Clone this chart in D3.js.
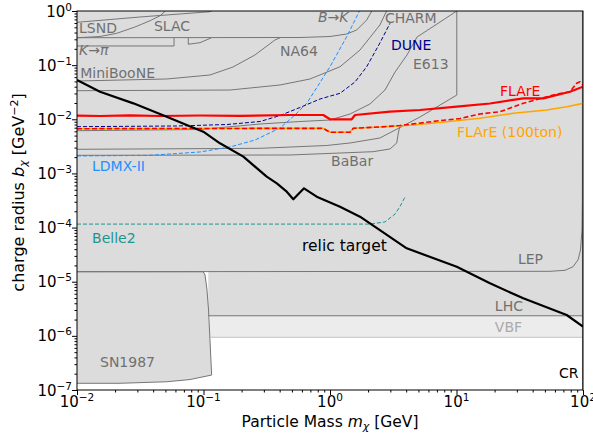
<!DOCTYPE html>
<html>
<head>
<meta charset="utf-8">
<script src="https://cdn.jsdelivr.net/npm/d3@7"></script>
<style>
  body { margin: 0; background: #fff; }
  text { font-family: "DejaVu Sans", sans-serif; }
</style>
</head>
<body>
<div id="chart-area"></div>
<script>
// excluded-region boundaries, points are [mass in GeV, b in GeV^-2]
var slacTop = [[0.01, 0.618], [0.0315, 0.775], [0.1125, 0.97], [0.116, 1.0]];
var lsnd = [[0.01, 0.321], [0.0152, 0.338], [0.0206, 0.387], [0.0287, 0.506], [0.0378, 0.662], [0.0453, 0.815], [0.05, 1.0]];
var bToK = [[0.01, 0.321], [0.579, 0.324], [1.0, 0.338], [1.355, 0.376], [1.626, 0.446], [1.95, 0.682], [2.14, 1.0]];
var kToPi1 = [[0.01, 0.226], [0.0585, 0.226], [0.0585, 0.321]];
var kToPi2 = [[0.0758, 0.321], [0.0758, 0.243], [0.0938, 0.26], [0.116, 0.321]];
var miniBooNE = [[0.01, 0.0509], [0.0512, 0.0555], [0.1125, 0.0658], [0.171, 0.0924], [0.255, 0.154], [0.367, 0.291], [0.403, 0.321]];
var na64 = [[0.01, 0.0337], [0.162, 0.0347], [0.403, 0.043], [0.695, 0.0555], [1.2, 0.0935], [1.726, 0.19], [2.48, 0.551], [2.8, 1.0]];
var charm = [[0.01, 0.00615], [0.0938, 0.00648], [0.28, 0.00818], [0.579, 0.0091], [1.0, 0.0097], [1.44, 0.01253], [2.07, 0.01915],
  [2.72, 0.0347], [3.27, 0.0747], [4.06, 0.154], [4.88, 0.331], [7.01, 0.575], [10.05, 1.0]];
var e613 = [[10.05, 1.0], [10.05, 0.028], [5.14, 0.011], [2.48, 0.00451], [1.44, 0.00365], [0.942, 0.00328], [0.28, 0.00291], [0.01, 0.00279]];
var babar = [[0.01, 0.00216], [0.483, 0.00219], [2.19, 0.00252], [2.98, 0.00283], [3.37, 0.00365], [3.48, 0.00582], [3.57, 0.0073]];
var lep = [[0.01, 1.53e-5], [54.8, 1.556e-5], [72.1, 1.625e-5], [83.4, 1.89e-5], [91.3, 2.52e-5], [95.5, 3.85e-5],
  [98.2, 9.0e-5], [98.9, 3.2e-4], [99.2, 1.0]];
var lhc = [[0.109, 2.35e-6], [100, 2.35e-6]];
var vbf = [[0.1125, 9.4e-7], [100, 9.4e-7]];
var sn1987 = [[0.01, 1.53e-5], [0.0996, 1.53e-5], [0.1028, 1.33e-5], [0.1066, 7.03e-6], [0.1096, 3.0e-6], [0.1125, 8.38e-7],
  [0.116, 1.89e-7], [0.0782, 1.56e-7], [0.0512, 1.42e-7], [0.0219, 1.33e-7], [0.01, 1.33e-7]];
var cr = [[99.5, 1e-7], [99.5, 1.0]];

// projections and the relic line
var flare = [[0.01, 0.01164], [0.0152, 0.0115], [0.0262, 0.01185], [0.0453, 0.0115], [0.0938, 0.01175], [0.1945, 0.0116],
  [0.483, 0.012], [0.885, 0.012], [1.0, 0.01], [1.484, 0.01], [1.577, 0.012], [2.98, 0.0138], [5.14, 0.01483],
  [10.05, 0.01707], [18.4, 0.01956], [33.7, 0.0244], [48.5, 0.0244], [78.9, 0.0323], [100, 0.04]];
var flareDashed = [[0.01, 0.0067], [0.0938, 0.00676], [0.885, 0.00681], [1.0, 0.00575], [1.44, 0.00575], [1.528, 0.00681],
  [2.48, 0.0072], [3.57, 0.00767], [6.97, 0.00929], [10.67, 0.01034], [15.3, 0.01253], [22.1, 0.0138], [33.7, 0.0197],
  [58.2, 0.0281], [78.9, 0.0323], [89.1, 0.0462], [94.6, 0.0494], [100, 0.043]];
var flare100 = [[0.01, 0.0067], [0.0938, 0.00676], [0.885, 0.00681], [1.0, 0.00575], [1.44, 0.00575], [1.528, 0.00681],
  [2.48, 0.0072], [4.56, 0.00784], [8.37, 0.00902], [15.3, 0.01042], [28.1, 0.0129], [51.6, 0.01484], [74.3, 0.01707], [100, 0.0197]];
var dune = [[0.01, 0.0073], [0.0617, 0.00752], [0.1535, 0.00801], [0.28, 0.0091], [0.403, 0.01175], [0.579, 0.01651],
  [0.834, 0.0237], [1.2, 0.0302], [1.577, 0.0489], [1.95, 0.0935], [2.48, 0.2564], [2.98, 0.593]];
var ldmx = [[0.01, 0.0021], [0.0378, 0.00216], [0.0938, 0.00249], [0.162, 0.00308], [0.255, 0.00414], [0.403, 0.0069],
  [0.528, 0.012], [0.655, 0.0197], [1.0, 0.0935], [1.355, 0.335], [1.71, 1.0]];
var belle2 = [[0.01, 1.16e-4], [2.07, 1.16e-4], [2.72, 1.27e-4], [3.27, 1.78e-4], [3.57, 2.43e-4], [3.92, 3.67e-4]];
var relic = [[0.01, 0.0531], [0.0152, 0.0323], [0.0279, 0.0197], [0.0512, 0.01116], [0.0736, 0.00784], [0.0996, 0.0059],
  [0.135, 0.0036], [0.2065, 0.00204], [0.316, 8.7e-4], [0.38, 6.57e-4], [0.455, 4.6e-4], [0.513, 3.33e-4], [0.623, 5.31e-4],
  [0.785, 3.72e-4], [1.2, 2.43e-4], [1.726, 1.59e-4], [2.48, 9.0e-5], [4.04, 4.14e-5], [10.05, 1.89e-5], [18.4, 9.33e-6],
  [33.7, 4.93e-6], [74.3, 2.43e-6], [100, 1.49e-6]];

var xTicks = [1e-2, 1e-1, 1e0, 1e1, 1e2];
var xTickExp = ["−2", "−1", "0", "1", "2"];
var yTicks = [1e-7, 1e-6, 1e-5, 1e-4, 1e-3, 1e-2, 1e-1, 1e0];
var yTickExp = ["−7", "−6", "−5", "−4", "−3", "−2", "−1", "0"];

// SVG drawing area
var margin = {top: 11, right: 10, bottom: 43, left: 77};
var width = 593 - margin.left - margin.right,
    height = 433 - margin.top - margin.bottom;

var svg = d3.select("#chart-area").append("svg")
    .attr("width", width + margin.left + margin.right)
    .attr("height", height + margin.top + margin.bottom)
    .append("g")
    .attr("transform", "translate(" + margin.left + "," + margin.top + ")");

var x = d3.scaleLog().domain([1e-2, 1e2]).range([0, width]);
var y = d3.scaleLog().domain([1e-7, 1]).range([height, 0]);

svg.append("clipPath").attr("id", "clip")
    .append("rect").attr("width", width).attr("height", height);

var plot = svg.append("g").attr("clip-path", "url(#clip)");

var line = d3.line().x(function(d) { return x(d[0]); }).y(function(d) { return y(d[1]); });
var toTop = d3.area().x(function(d) { return x(d[0]); }).y0(0).y1(function(d) { return y(d[1]); });

var fillGray = "#dcdcdc", edgeGray = "#767676";

// VBF band sits under everything
plot.append("path").attr("d", toTop(vbf)).attr("fill", "#ececec");

// regions filled up to the top of the plot
[slacTop, lsnd, bToK, kToPi1, kToPi2, miniBooNE, na64, charm, babar, lep, lhc].forEach(function(b) {
    plot.append("path").attr("d", toTop(b)).attr("fill", fillGray);
});
// closed regions
[e613, sn1987].forEach(function(b) {
    plot.append("path").attr("d", line(b) + "Z").attr("fill", fillGray);
});

// boundary lines
[slacTop, lsnd, bToK, kToPi1, kToPi2, miniBooNE, na64, charm, e613, babar, lep, lhc, sn1987].forEach(function(b) {
    plot.append("path").attr("d", line(b))
        .attr("fill", "none").attr("stroke", edgeGray).attr("stroke-width", 1);
});
plot.append("path").attr("d", line(vbf)).attr("fill", "none").attr("stroke", "#c4c4c4").attr("stroke-width", 1);
plot.append("path").attr("d", line(cr)).attr("fill", "none").attr("stroke", edgeGray).attr("stroke-width", 1.5);

// projections
var curves = [
    {d: belle2, color: "#1f9490", w: 1, dash: "4,2"},
    {d: ldmx, color: "#1e90ff", w: 1, dash: "4,2"},
    {d: dune, color: "#00008b", w: 1, dash: "4,2"},
    {d: flare100, color: "orange", w: 1.6, dash: null},
    {d: flareDashed, color: "red", w: 1.6, dash: "5,2.5"},
    {d: flare, color: "red", w: 2.2, dash: null},
    {d: relic, color: "black", w: 2.2, dash: null}
];
curves.forEach(function(c) {
    plot.append("path").attr("d", line(c.d))
        .attr("fill", "none")
        .attr("stroke", c.color)
        .attr("stroke-width", c.w)
        .attr("stroke-dasharray", c.dash)
        .attr("stroke-linejoin", "round");
});

// labels
var grayText = "#707070";
var labels = [
    {t: "LSND", m: 0.01037, b: 0.392, c: grayText},
    {t: "SLAC", m: 0.0406, b: 0.427, c: grayText},
    {t: "K→π", m: 0.01037, b: 0.154, c: grayText, it: true},
    {t: "MiniBooNE", m: 0.0106, b: 0.0579, c: grayText},
    {t: "NA64", m: 0.403, b: 0.1475, c: grayText},
    {t: "B→K", m: 0.803, b: 0.626, c: grayText, it: true},
    {t: "CHARM", m: 2.72, b: 0.6, c: grayText},
    {t: "DUNE", m: 3.03, b: 0.19, c: "#00008b"},
    {t: "E613", m: 4.53, b: 0.0849, c: grayText},
    {t: "FLArE", m: 22.1, b: 0.0269, c: "red"},
    {t: "FLArE (100ton)", m: 10.1, b: 0.00471, c: "orange"},
    {t: "BaBar", m: 1.02, b: 0.00137, c: grayText},
    {t: "LDMX-II", m: 0.01315, b: 0.00111, c: "#1e90ff"},
    {t: "Belle2", m: 0.01315, b: 5.19e-5, c: "#1f9490"},
    {t: "relic target", m: 0.601, b: 3.69e-5, c: "black", size: 15.5},
    {t: "LEP", m: 30.6, b: 2.12e-5, c: grayText},
    {t: "LHC", m: 20.1, b: 2.88e-6, c: grayText},
    {t: "VBF", m: 20.1, b: 1.18e-6, c: "#aaaaaa"},
    {t: "CR", m: 64.6, b: 1.66e-7, c: "black"},
    {t: "SN1987", m: 0.0152, b: 2.66e-7, c: grayText}
];
svg.selectAll(".lbl").data(labels).enter().append("text")
    .attr("class", "lbl")
    .attr("x", function(d) { return x(d.m); })
    .attr("y", function(d) { return y(d.b); })
    .attr("fill", function(d) { return d.c; })
    .attr("font-size", function(d) { return d.size || 14; })
    .attr("font-style", function(d) { return d.it ? "italic" : null; })
    .text(function(d) { return d.t; });

// axes: major and minor ticks
var minor = [];
for (var e = -7; e < 2; e++) for (var k = 2; k < 10; k++) minor.push(k * Math.pow(10, e));

svg.append("g").attr("transform", "translate(0," + height + ")")
    .call(d3.axisBottom(x).tickValues(xTicks).tickSize(5).tickFormat(""));
svg.append("g").attr("transform", "translate(0," + height + ")")
    .call(d3.axisBottom(x).tickValues(minor.filter(function(v) { return v > 1e-2 && v < 1e2; })).tickSize(2.5).tickFormat(""));
svg.append("g")
    .call(d3.axisLeft(y).tickValues(yTicks).tickSize(5).tickFormat(""));
svg.append("g")
    .call(d3.axisLeft(y).tickValues(minor.filter(function(v) { return v > 1e-7 && v < 1; })).tickSize(2.5).tickFormat(""));
svg.selectAll(".domain").remove();

// frame
svg.append("rect").attr("width", width).attr("height", height)
    .attr("fill", "none").attr("stroke", "black").attr("stroke-width", 1);

// tick labels with superscript exponents
xTicks.forEach(function(v, i) {
    var t = svg.append("text").attr("x", x(v)).attr("y", height + 17)
        .attr("text-anchor", "middle").attr("font-size", 15).attr("fill", "black");
    t.append("tspan").text("10");
    t.append("tspan").attr("dy", -6).attr("font-size", 10.5).text(xTickExp[i]);
});
yTicks.forEach(function(v, i) {
    var t = svg.append("text").attr("x", -5).attr("y", y(v) + 5.5)
        .attr("text-anchor", "end").attr("font-size", 15).attr("fill", "black");
    t.append("tspan").text("10");
    t.append("tspan").attr("dy", -6).attr("font-size", 10.5).text(yTickExp[i]);
});

// axis titles
var xt = svg.append("text").attr("x", width / 2).attr("y", height + 37)
    .attr("text-anchor", "middle").attr("font-size", 15.5).attr("fill", "black");
xt.append("tspan").text("Particle Mass ");
xt.append("tspan").attr("font-style", "italic").text("m");
xt.append("tspan").attr("font-style", "italic").attr("font-size", 11).attr("dy", 3).text("χ");
xt.append("tspan").attr("dy", -3).text(" [GeV]");

var yt = svg.append("text").attr("transform", "translate(-53," + (height / 2 - 8) + ") rotate(-90)")
    .attr("text-anchor", "middle").attr("font-size", 16).attr("fill", "black");
yt.append("tspan").text("charge radius ");
yt.append("tspan").attr("font-style", "italic").text("b");
yt.append("tspan").attr("font-style", "italic").attr("font-size", 11).attr("dy", 3).text("χ");
yt.append("tspan").attr("dy", -3).text(" [GeV");
yt.append("tspan").attr("dy", -6).attr("font-size", 11).text("−2");
yt.append("tspan").attr("dy", 6).text("]");
</script>
</body>
</html>
